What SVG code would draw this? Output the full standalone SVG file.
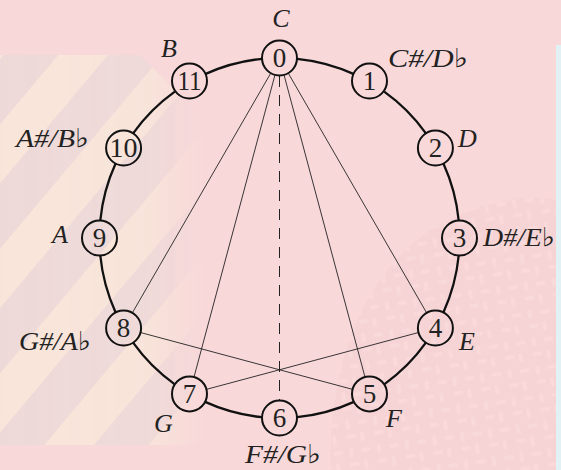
<svg xmlns="http://www.w3.org/2000/svg" width="561" height="470" viewBox="0 0 561 470">
<defs>
<pattern id="stripes" width="80" height="80" patternUnits="userSpaceOnUse" patternTransform="rotate(40)">
<rect width="80" height="80" fill="#ecdad8"/>
<rect x="0" width="38" height="80" fill="#fbe9da"/>
</pattern>
<pattern id="weave" width="28" height="28" patternUnits="userSpaceOnUse" patternTransform="rotate(-8)">
<rect width="28" height="28" fill="#f2cfd0"/>
<rect x="2" y="3" width="10" height="4" rx="2" fill="#f8dada"/>
<rect x="16" y="2" width="4" height="10" rx="2" fill="#f8dada"/>
<rect x="3" y="16" width="4" height="10" rx="2" fill="#f8dada"/>
<rect x="15" y="18" width="10" height="4" rx="2" fill="#f8dada"/>
</pattern>
<linearGradient id="fade" x1="0" y1="0" x2="1" y2="0">
<stop offset="0" stop-color="#fff" stop-opacity="1"/>
<stop offset="0.7" stop-color="#fff" stop-opacity="0.9"/>
<stop offset="1" stop-color="#fff" stop-opacity="0"/>
</linearGradient>
<mask id="leftmask"><path d="M0,55 L140,55 L205,120 L205,445 L0,445 Z" fill="url(#fade)"/></mask>
</defs>
<style>
.arc{fill:none;stroke:#111;stroke-width:2.3}
.node circle{fill:none;stroke:#111;stroke-width:2}
.num{font-family:"Liberation Serif","Times New Roman",serif;font-size:27px;fill:#222;text-anchor:middle}
.lbl{font-family:"Liberation Serif","Times New Roman","DejaVu Serif",serif;font-style:italic;font-size:26px;fill:#222}
.edge{stroke:#222;stroke-width:0.9;fill:none}
.dash{stroke:#222;stroke-width:1;stroke-dasharray:11 8;fill:none}
</style>
<g id="background">
<rect width="561" height="470" fill="#f9d8d9"/>
<rect width="561" height="470" fill="#efdcd9" opacity="0.6" mask="url(#leftmask)"/>
<rect width="561" height="470" fill="url(#stripes)" mask="url(#leftmask)" opacity="0.75"/>
<path d="M330,470 Q330,300 430,230 Q500,190 561,200 L561,470 Z" fill="url(#weave)" opacity="0.45"/>
<rect x="556" y="45" width="5" height="425" fill="#e2f1f4"/>
</g>
<g id="ring">
<path class="arc" d="M297,58.8 A180,180 0 0 1 353.9,74.1 M384.2,91.6 A180,180 0 0 1 425.9,133.3 M443.4,163.6 A180,180 0 0 1 458.7,220.5 M458.7,255.5 A180,180 0 0 1 443.4,312.4 M425.9,342.7 A180,180 0 0 1 384.2,384.4 M353.9,401.9 A180,180 0 0 1 297,417.2 M262,417.2 A180,180 0 0 1 205.1,401.9 M174.8,384.4 A180,180 0 0 1 133.1,342.7 M115.6,312.4 A180,180 0 0 1 100.3,255.5 M100.3,220.5 A180,180 0 0 1 115.6,163.6 M133.1,133.3 A180,180 0 0 1 174.8,91.6 M205.1,74.1 A180,180 0 0 1 262,58.8"/>
</g>
<g id="connectors">
<line class="edge" x1="270.75" y1="73.16" x2="132.35" y2="312.84"/>
<line class="edge" x1="288.25" y1="73.16" x2="426.65" y2="312.84"/>
<line class="edge" x1="274.97" y1="74.9" x2="194.03" y2="377"/>
<line class="edge" x1="284.03" y1="74.9" x2="364.97" y2="377"/>
<line class="edge" x1="140.5" y1="332.53" x2="352.6" y2="389.37"/>
<line class="edge" x1="206.4" y1="389.37" x2="418.5" y2="332.53"/>
<line class="dash" x1="279.5" y1="76" x2="279.5" y2="400"/>
</g>
<g id="n0" class="node"><circle cx="279.5" cy="58" r="17.5"/><text class="num" x="279.5" y="67">0</text><text class="lbl" x="281" y="27" text-anchor="middle">C</text></g>
<g id="n1" class="node"><circle cx="369.5" cy="81" r="17.5"/><text class="num" x="369.5" y="90">1</text><text class="lbl" x="388" y="67" textLength="80" lengthAdjust="spacingAndGlyphs">C#/D♭</text></g>
<g id="n2" class="node"><circle cx="435.4" cy="148" r="17.5"/><text class="num" x="435.4" y="157">2</text><text class="lbl" x="458" y="147">D</text></g>
<g id="n3" class="node"><circle cx="459.5" cy="238" r="17.5"/><text class="num" x="459.5" y="247">3</text><text class="lbl" x="483" y="246" textLength="72" lengthAdjust="spacingAndGlyphs">D#/E♭</text></g>
<g id="n4" class="node"><circle cx="435.4" cy="328" r="17.5"/><text class="num" x="435.4" y="337">4</text><text class="lbl" x="459" y="350">E</text></g>
<g id="n5" class="node"><circle cx="369.5" cy="393.9" r="17.5"/><text class="num" x="369.5" y="402.9">5</text><text class="lbl" x="386" y="427">F</text></g>
<g id="n6" class="node"><circle cx="279.5" cy="418" r="17.5"/><text class="num" x="279.5" y="427">6</text><text class="lbl" x="245" y="463" textLength="76" lengthAdjust="spacingAndGlyphs">F#/G♭</text></g>
<g id="n7" class="node"><circle cx="189.5" cy="393.9" r="17.5"/><text class="num" x="189.5" y="402.9">7</text><text class="lbl" x="154" y="432">G</text></g>
<g id="n8" class="node"><circle cx="123.6" cy="328" r="17.5"/><text class="num" x="123.6" y="337">8</text><text class="lbl" x="19" y="350" textLength="72" lengthAdjust="spacingAndGlyphs">G#/A♭</text></g>
<g id="n9" class="node"><circle cx="99.5" cy="238" r="17.5"/><text class="num" x="99.5" y="247">9</text><text class="lbl" x="52" y="243">A</text></g>
<g id="n10" class="node"><circle cx="123.6" cy="148" r="17.5"/><text class="num" x="123.6" y="157" textLength="28" lengthAdjust="spacingAndGlyphs">10</text><text class="lbl" x="16" y="147" textLength="73" lengthAdjust="spacingAndGlyphs">A#/B♭</text></g>
<g id="n11" class="node"><circle cx="189.5" cy="81" r="17.5"/><text class="num" x="189.5" y="90" textLength="24" lengthAdjust="spacingAndGlyphs">11</text><text class="lbl" x="161" y="57">B</text></g>
</svg>
